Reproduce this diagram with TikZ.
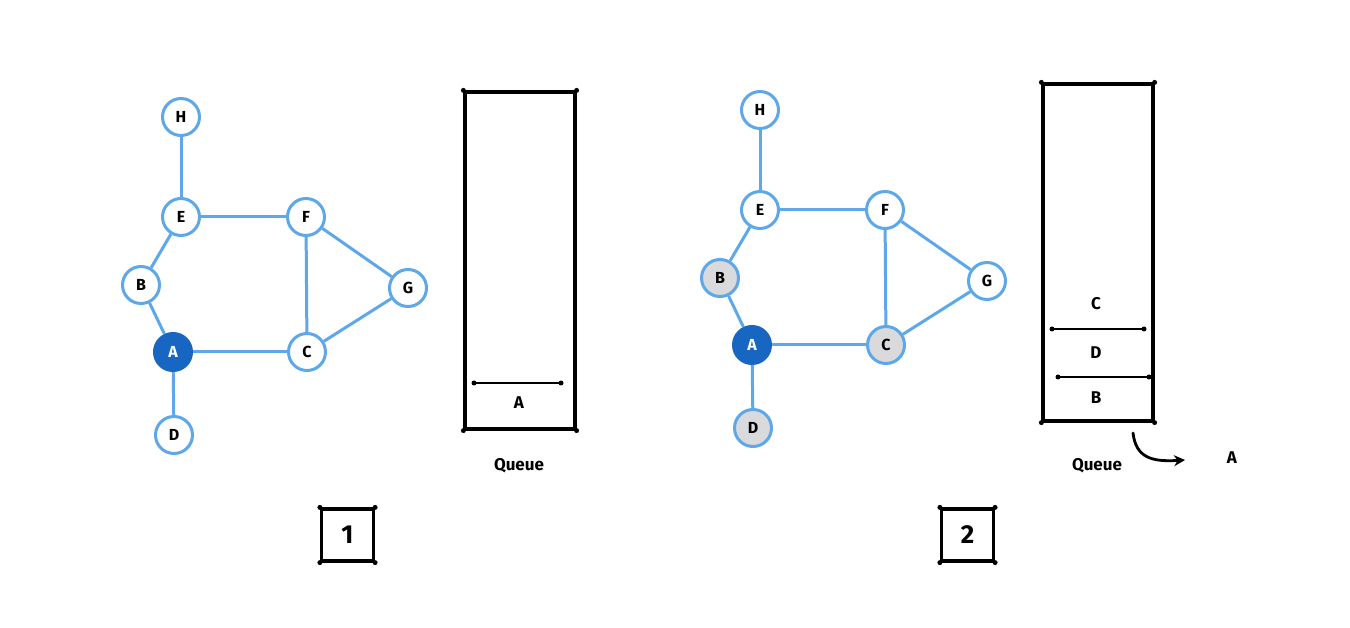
\documentclass[tikz,border=0pt]{standalone}
\usepackage{fontspec}
\setmainfont{Fira Sans}
\usetikzlibrary{arrows.meta}

\definecolor{edgeblue}{RGB}{94,168,234}
\definecolor{visited}{RGB}{22,102,194}
\definecolor{queued}{RGB}{218,218,220}

\tikzset{
  vertex/.style={circle, draw=edgeblue, line width=3pt, fill=white,
    minimum size=37pt, inner sep=0pt, font=\fontsize{16}{16}\selectfont\bfseries},
  current/.style={vertex, fill=visited, draw=visited, text=white},
  inqueue/.style={vertex, fill=queued},
  link/.style={draw=edgeblue, line width=3pt},
  queuebox/.style={draw=black, line width=3.2pt, minimum width=110pt,
    minimum height=337pt, inner sep=0pt},
  divider/.style={line width=2.8pt, line cap=round},
  stepbox/.style={draw, line width=3.2pt, minimum size=52pt, inner sep=0pt,
    font=\fontsize{26}{26}\selectfont\bfseries},
  dot/.style={circle, fill=black, inner sep=0pt, minimum size=5pt},
  caption/.style={font=\fontsize{17}{17}\selectfont\bfseries},
  entry/.style={font=\fontsize{17}{17}\selectfont\bfseries},
}

% corner dots of a rectangular node
\newcommand{\cornerdots}[1]{%
  \foreach \c in {north west,north east,south west,south east}
    \node[dot] at (#1.\c) {};}

\begin{document}
\begin{tikzpicture}[x=1pt, y=-1pt]
  \useasboundingbox[fill=white] (0,0) rectangle (1350,628);

  % ---------- step 1: graph ----------
  \begin{scope}[name prefix=a-]
    \node[vertex]  (H) at (181,117) {H};
    \node[vertex]  (E) at (181,217) {E};
    \node[vertex]  (F) at (306,217) {F};
    \node[vertex]  (B) at (141,285) {B};
    \node[vertex]  (G) at (408,288) {G};
    \node[current] (A) at (173,352) {A};
    \node[vertex]  (C) at (307,352) {C};
    \node[vertex]  (D) at (174,435) {D};
    \foreach \u/\v in {H/E, E/F, E/B, B/A, A/C, A/D, F/C, F/G, G/C}
      \draw[link] (\u) -- (\v);
  \end{scope}

  % ---------- step 1: queue ----------
  \node[queuebox] (q1) at (520,260.5) {};
  \cornerdots{q1}
  \coordinate (q1l) at (474,383);
  \coordinate (q1r) at (561,383);
  \draw[divider] (q1l) -- (q1r);
  \node[dot] at (q1l) {}; \node[dot] at (q1r) {};
  \node[entry] (q1a) at (519,403) {A};
  \node[caption] (q1cap) at (519,466) {Queue};

  \node[stepbox] (s1) at (347.5,535) {1};
  \cornerdots{s1}

  % ---------- step 2: graph ----------
  \begin{scope}[name prefix=b-, shift={(579,-7)}]
    \node[vertex]  (H) at (181,117) {H};
    \node[vertex]  (E) at (181,217) {E};
    \node[vertex]  (F) at (306,217) {F};
    \node[inqueue] (B) at (141,285) {B};
    \node[vertex]  (G) at (408,288) {G};
    \node[current] (A) at (173,352) {A};
    \node[inqueue] (C) at (307,352) {C};
    \node[inqueue] (D) at (174,435) {D};
    \foreach \u/\v in {H/E, E/F, E/B, B/A, A/C, A/D, F/C, F/G, G/C}
      \draw[link] (\u) -- (\v);
  \end{scope}

  % ---------- step 2: queue ----------
  \node[queuebox] (q2) at (1098,252.5) {};
  \cornerdots{q2}
  \coordinate (q2l1) at (1052,329);
  \coordinate (q2r1) at (1144,329);
  \coordinate (q2l2) at (1058,377);
  \coordinate (q2r2) at (1149,377);
  \draw[divider] (q2l1) -- (q2r1);
  \draw[divider] (q2l2) -- (q2r2);
  \foreach \p in {q2l1,q2r1,q2l2,q2r2} \node[dot] at (\p) {};
  \node[entry] (q2c) at (1096,304) {C};
  \node[entry] (q2d) at (1096,353) {D};
  \node[entry] (q2b) at (1096,398) {B};
  \node[caption] (q2cap) at (1097,466) {Queue};

  % dequeued element
  \node[entry] (out) at (1232,458) {A};
  \coordinate (deqstart) at (1133,433);
  \coordinate (deqend) at (1185,460);
  \draw[line width=2.8pt, line cap=round, -{Stealth[length=11pt,width=11pt]}]
    (deqstart) .. controls (1136,458) and (1152,462) .. (deqend);

  \node[stepbox] (s2) at (967.5,535) {2};
  \cornerdots{s2}
\end{tikzpicture}
\end{document}
